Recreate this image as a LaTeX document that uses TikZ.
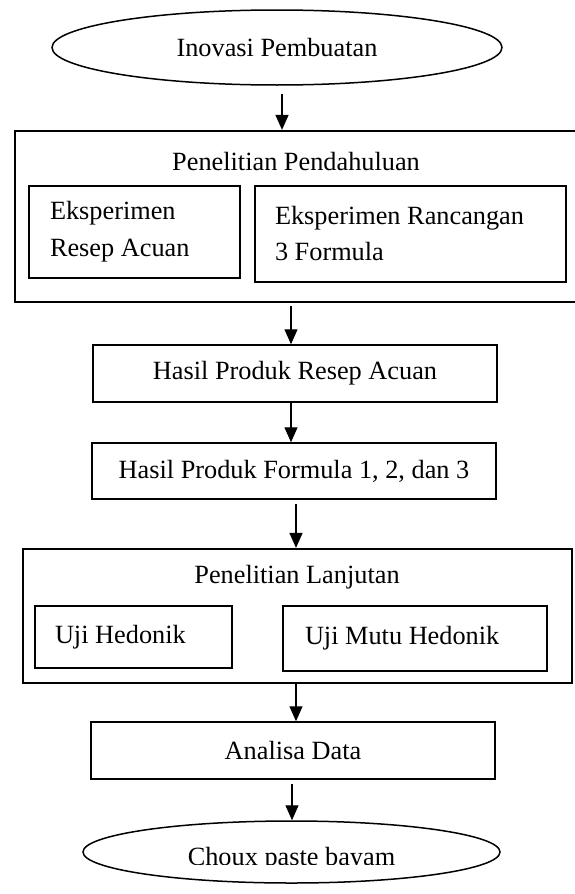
\documentclass[tikz,border=0pt]{standalone}
\usepackage{fontspec}
\setmainfont{Liberation Serif}
\usetikzlibrary{shapes,arrows.meta}

\begin{document}
\begin{tikzpicture}[x=1pt, y=-1pt, font=\fontsize{26.3}{37}\selectfont]
		% Define the styles for the blocks
		\tikzstyle{terminal}=[ellipse, draw=black, line width=1.5pt, inner sep=0pt]
		\tikzstyle{operation}=[rectangle, draw=black, line width=1.5pt, inner sep=0pt, minimum width=404pt, text centered]
		\tikzstyle{group}=[rectangle, draw=black, line width=2.2pt, inner sep=0pt]
		\tikzstyle{item}=[rectangle, draw=black, line width=1.5pt, inner ysep=0pt, align=flush left]
		\tikzstyle{flow}=[-{Triangle[length=15pt, width=13pt]}, line width=1.4pt]

		\useasboundingbox (0,0) rectangle (574,894);

		% Define nodes
		\node (start) [terminal, minimum width=450pt, minimum height=75pt] at (277,47.5) {Inovasi Pembuatan};

		\node (pendahuluan) [group, minimum width=562pt, minimum height=171pt] at (296,216.5) {};
		\node (pendtitle) at (296,162) {Penelitian Pendahuluan};
		\node (acuan) [item, text width=169pt, inner xsep=21pt, minimum height=92pt] at (134.5,232) {Eksperimen\\Resep Acuan};
		\node (rancangan) [item, text width=271pt, inner xsep=20pt, minimum height=96pt] at (410.5,234) {Eksperimen Rancangan\\[-1pt]3 Formula};

		\node (hasilacuan) [operation, minimum height=57pt] at (295,373.5) {Hasil Produk Resep Acuan};
		\node (hasilformula) [operation, minimum height=56pt] at (294,471) {Hasil Produk Formula 1, 2, dan 3};

		\node (lanjutan) [group, minimum width=549pt, minimum height=134pt] at (297.5,616) {};
		\node (lanjtitle) at (297,577) {Penelitian Lanjutan};
		\node (hedonik) [item, text width=157pt, inner xsep=20pt, minimum height=62pt] at (133.5,637) {Uji Hedonik};
		\node (mutu) [item, text width=220pt, inner xsep=22pt, minimum height=65pt] at (415,638.5) {Uji Mutu Hedonik};

		\node (analisa) [operation, minimum height=57pt] at (293,750.5) {Analisa Data};

		\node (finish) [terminal, minimum width=417pt, minimum height=62pt] at (291.5,852) {};
		\begin{scope}
			\clip (0,0) rectangle (574,864);
			\node (finishtext) [anchor=base] at (291.5,865) {Choux paste bayam};
		\end{scope}

		% Define edges
		\draw[flow, shorten <=8pt] ([xshift=5pt]start.south) -- ([xshift=5pt]start.south |- pendahuluan.north);
		\draw[flow, shorten <=3pt] ([xshift=-5pt]pendahuluan.south) -- ([xshift=-5pt]pendahuluan.south |- hasilacuan.north);
		\draw[flow] ([xshift=-4pt]hasilacuan.south) -- ([xshift=-4pt]hasilacuan.south |- hasilformula.north);
		\draw[flow, shorten <=4pt] ([xshift=2pt]hasilformula.south) -- ([xshift=2pt]hasilformula.south |- lanjutan.north);
		\draw[flow] ([xshift=-1.5pt]lanjutan.south) -- ([xshift=-1.5pt]lanjutan.south |- analisa.north);
		\draw[flow, shorten <=4pt] ([xshift=-1pt]analisa.south) -- ([xshift=-1pt]analisa.south |- finish.north);
	\end{tikzpicture}
\end{document}
